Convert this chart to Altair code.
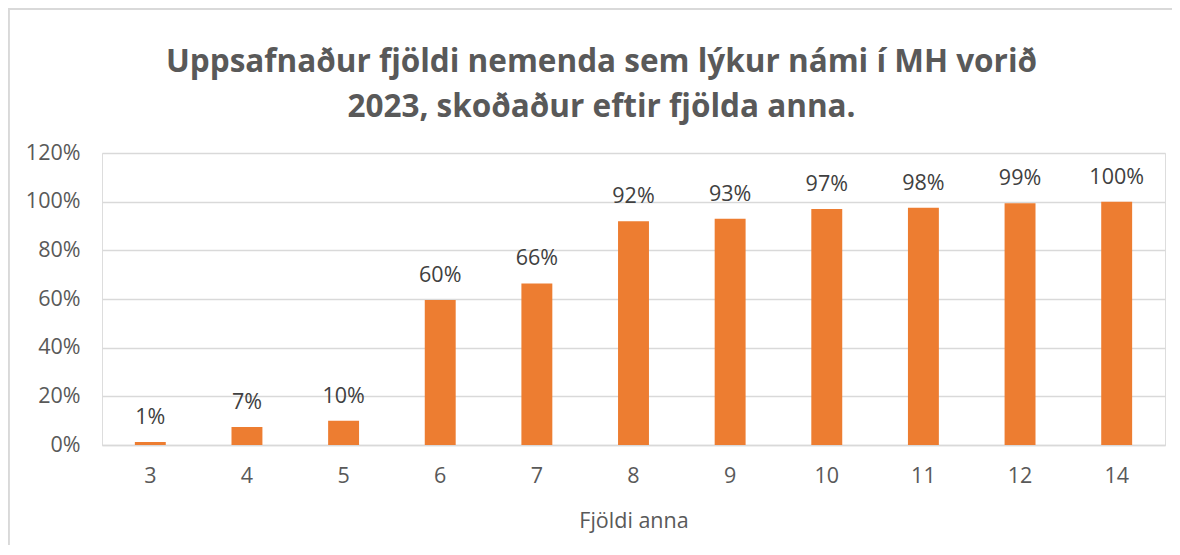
import altair as alt
import pandas as pd

categories = ["3", "4", "5", "6", "7", "8", "9", "10", "11", "12", "14"]
values = [0.012, 0.074, 0.10, 0.596, 0.664, 0.92, 0.93, 0.97, 0.975, 0.993, 1.0]
labels = ["1%", "7%", "10%", "60%", "66%", "92%", "93%", "97%", "98%", "99%", "100%"]
y_ticks = [0, 0.2, 0.4, 0.6, 0.8, 1.0, 1.2]

df = pd.DataFrame({"cat": categories, "val": values, "lab": labels})

FONT = "Open Sans"
GRAY = "#595959"
FS = 21.5

x_enc = alt.X("cat:N", sort=categories, title="Fjöldi anna",
              scale=alt.Scale(paddingInner=0.68, paddingOuter=0.34),
              axis=alt.Axis(labelAngle=0, labelFontSize=FS, labelColor=GRAY, labelFont=FONT,
                            titleFont=FONT, titleFontSize=FS, titleColor=GRAY, titleFontWeight="normal",
                            titlePadding=24, labelPadding=20, ticks=False, domain=True,
                            domainColor="#d9d9d9", domainWidth=1.5))
y_enc = alt.Y("val:Q", scale=alt.Scale(domain=[0, 1.2]), title=None,
              axis=alt.Axis(values=y_ticks, format=".0%", labelFontSize=FS, labelColor=GRAY,
                            labelFont=FONT, ticks=False, domain=False, labelPadding=22,
                            gridColor="#d9d9d9", gridWidth=1.5))

bars = alt.Chart(df).mark_bar(color="#ED7D31").encode(x=x_enc, y=y_enc)
text = alt.Chart(df).mark_text(dy=-24, fontSize=FS, font=FONT, color="#404040").encode(
    x=alt.X("cat:N", sort=categories), y="val:Q", text="lab:N")

frame = alt.Chart(df).mark_rect(fill=None, stroke="#d9d9d9", strokeWidth=1.5).encode(
    x=alt.value(-93.5), x2=alt.value(1200), y=alt.value(-144), y2=alt.value(420))

chart = alt.layer(frame, bars, text).properties(
    width=1063, height=292,
    title=alt.Title(["Uppsafnaður fjöldi nemenda sem lýkur námi í MH vorið",
                     "2023, skoðaður eftir fjölda anna."],
                    font=FONT, fontSize=31.5, fontWeight="bold", color=GRAY,
                    anchor="middle", dx=-32, offset=-115, lineHeight=45),
    autosize="none",
    padding={"left": 94, "top": 145, "right": 7, "bottom": 100},
).configure_view(stroke=None).configure(background="white")

chart.save("out.html", embed_options={"renderer": "svg", "actions": False})
